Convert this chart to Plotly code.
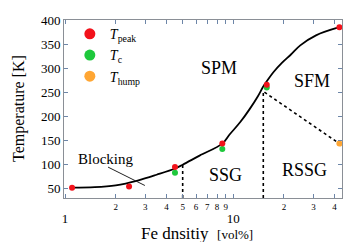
import numpy as np
import plotly.graph_objects as go

# ---- data ----
fe_peak = [1.1, 2.4, 4.5, 8.6, 15.8, 42.7]
t_peak = [51, 53.5, 94, 143, 266, 386]
fe_c = [4.5, 8.6, 15.8]
t_c = [82, 132, 260]
fe_hump = [42.7]
t_hump = [143]

curve_fe = [1.1, 1.5, 2.0, 2.7, 3.5, 4.5, 5.0, 6.3, 8.6, 9.5, 11.0, 12.5, 14.0, 15.0, 15.8, 17.3, 19.5, 22.0, 25.0, 31.0, 42.7]
curve_t = [51, 52, 56, 66, 78, 91, 99, 118, 143, 162, 188, 215, 242, 261, 273, 292, 312, 329, 348, 369, 386]

ssg_fe = [5.0, 5.0]
ssg_t = [29.5, 99]
rssg_fe = [15.07, 15.07, 42.7]
rssg_t = [29.5, 252, 143]

block_fe = [1.80, 2.98]
block_t = [94, 55.6]

minor_tickvals = [2, 3, 4, 5, 6, 7, 8, 9, 20, 30, 40]
minor_ticklabels = ["2", "3", "4", "5", "6", "7", "8", "9", "2", "3", "4"]
major_tickvals = [1, 10]
major_ticklabels = ["1", "10"]
y_tickvals = [50, 100, 150, 200, 250, 300, 350, 400]

regions = ["SPM", "SFM", "SSG", "RSSG"]
region_fe = [8.2, 29.2, 8.97, 26.5]
region_t = [300, 273, 77, 87]

RED = "#f2121b"
GREEN = "#1ec83c"
ORANGE = "#ffa633"
SERIF = "Liberation Serif"
XRANGE = [-0.0065, 1.646]

fig = go.Figure()

fig.add_trace(go.Scatter(x=curve_fe, y=curve_t, mode="lines", line=dict(color="black", width=1.8, shape="spline", smoothing=1.0), showlegend=False, hoverinfo="skip"))
fig.add_trace(go.Scatter(x=ssg_fe, y=ssg_t, mode="lines", line=dict(color="black", width=1.6, dash="dot"), showlegend=False))
fig.add_trace(go.Scatter(x=rssg_fe, y=rssg_t, mode="lines", line=dict(color="black", width=1.6, dash="dot"), showlegend=False))
fig.add_trace(go.Scatter(x=block_fe, y=block_t, mode="lines", line=dict(color="#222", width=1), showlegend=False))

fig.add_trace(go.Scatter(x=fe_c, y=t_c, mode="markers", marker=dict(color=GREEN, size=6), showlegend=False))
fig.add_trace(go.Scatter(x=fe_hump, y=t_hump, mode="markers", marker=dict(color=ORANGE, size=6), showlegend=False))
fig.add_trace(go.Scatter(x=fe_peak, y=t_peak, mode="markers", marker=dict(color=RED, size=6), showlegend=False))

# legend entries
for name, col in [("<i>T</i><sub>peak</sub>", RED), ("<i>T</i><sub>c</sub>", GREEN), ("<i>T</i><sub>hump</sub>", ORANGE)]:
    fig.add_trace(go.Scatter(x=[None], y=[None], mode="markers", marker=dict(color=col, size=11), name=name))

# invisible trace on the overlay axis so it is drawn
fig.add_trace(go.Scatter(x=[None], y=[None], xaxis="x2", showlegend=False, hoverinfo="skip"))

for r, xv, yv in zip(regions, region_fe, region_t):
    fig.add_annotation(x=np.log10(xv), y=yv, text=r, showarrow=False, font=dict(family=SERIF, size=18, color="black"))
fig.add_annotation(x=np.log10(1.733), y=111, text="Blocking", showarrow=False, font=dict(family=SERIF, size=15, color="black"))

fig.add_annotation(x=-0.16, y=0.503, xref="paper", yref="paper", text="Temperature [K]", textangle=-90, showarrow=False,
                   font=dict(family=SERIF, size=16, color="black"), xanchor="center", yanchor="middle")
fig.add_annotation(x=0.48, y=-0.198, xref="paper", yref="paper",
                   text="Fe dnsitiy  <span style='font-size:13px'>[vol%]</span>", showarrow=False,
                   font=dict(family=SERIF, size=17, color="black"), xanchor="center", yanchor="middle")

axis_common = dict(showgrid=False, zeroline=False, showline=True, linecolor="#8a8f96", linewidth=1,
                   ticks="inside", ticklen=4, tickcolor="#6d86a8", mirror="ticks", automargin=False)

fig.update_layout(
    xaxis=dict(type="log", range=XRANGE, tickvals=minor_tickvals + major_tickvals,
               ticktext=minor_ticklabels + ["", ""],
               tickfont=dict(family=SERIF, size=9, color="black"), **axis_common),
    xaxis2=dict(type="log", range=XRANGE, overlaying="x", side="bottom", tickvals=major_tickvals,
                ticktext=major_ticklabels, showline=False, ticks="", showgrid=False, zeroline=False,
                tickfont=dict(family=SERIF, size=13, color="black"), ticklabelstandoff=11, automargin=False),
    yaxis=dict(range=[29.5, 401], tickvals=y_tickvals,
               tickfont=dict(family=SERIF, size=13, color="black"), **axis_common),
    width=343, height=242,
    margin=dict(l=64, r=1, t=20, b=44, autoexpand=False),
    paper_bgcolor="white", plot_bgcolor="white",
    showlegend=True,
    legend=dict(x=0.021, y=1.01, xanchor="left", yanchor="top", bgcolor="rgba(0,0,0,0)",
                font=dict(family=SERIF, size=14, color="black"), tracegroupgap=0,
                itemwidth=30),
)

fig.write_html("out.html", config={"displayModeBar": False},
               post_script="document.body.style.margin='0';document.body.style.padding='0';")
